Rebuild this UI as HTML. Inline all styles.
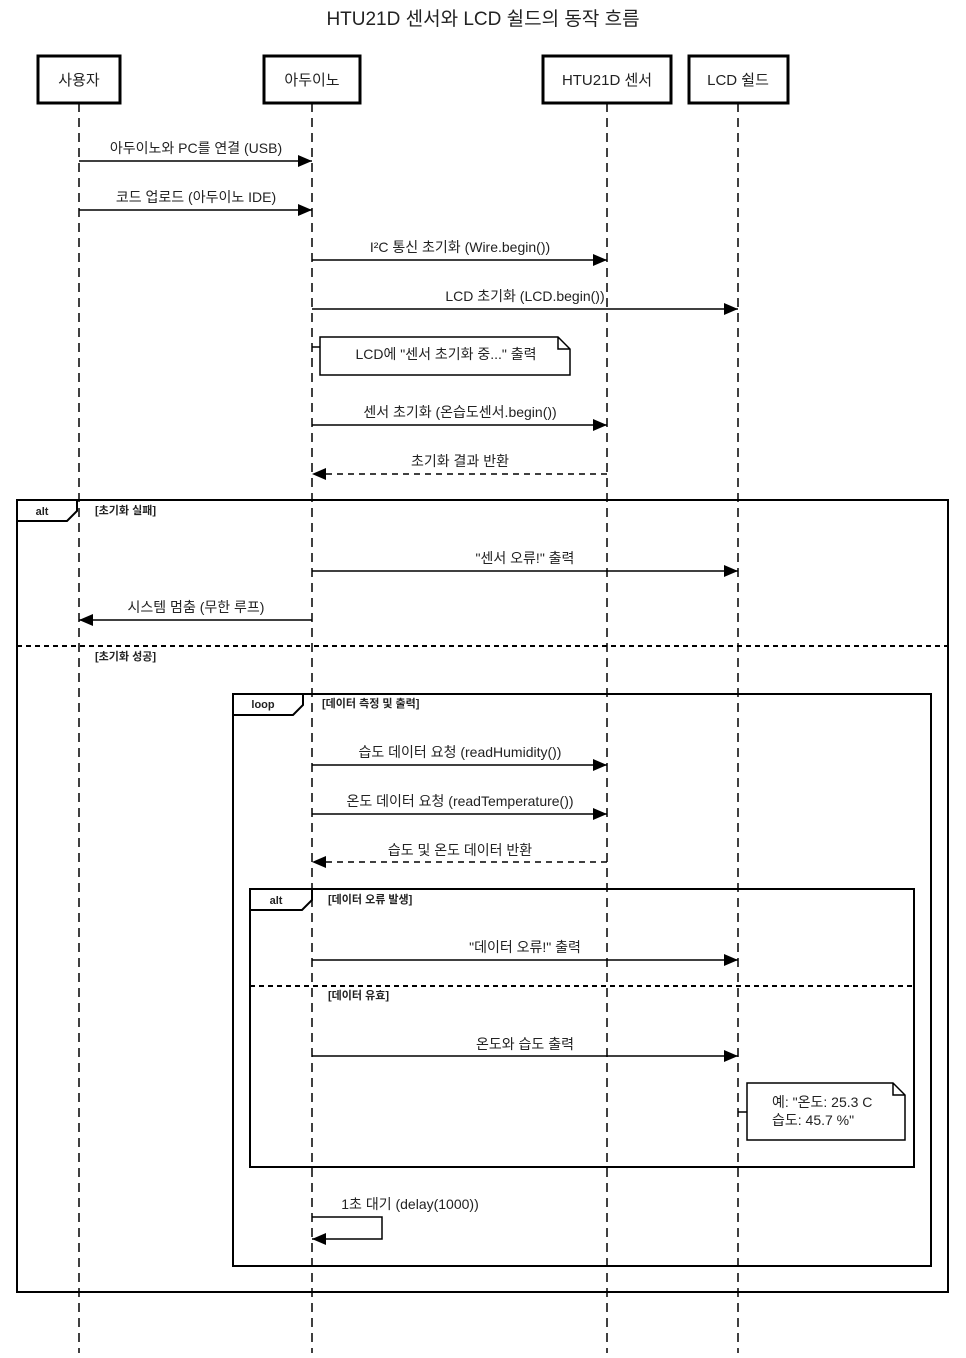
<!DOCTYPE html>
<html><head><meta charset="utf-8"><style>
body{margin:0;background:#fff}
svg text{font-family:"Liberation Sans","Noto Sans CJK KR",sans-serif;fill:#222}
</style></head><body>
<svg width="966" height="1353" viewBox="0 0 966 1353" xmlns="http://www.w3.org/2000/svg">
<defs>
<marker id="a" markerWidth="14" markerHeight="12" refX="14" refY="6" orient="auto" markerUnits="userSpaceOnUse"><path d="M0,0 L14,6 L0,12 Z" fill="#000"/></marker>
</defs>
<text x="483" y="25" font-size="19" text-anchor="middle">HTU21D 센서와 LCD 쉴드의 동작 흐름</text>
<g stroke="#000" stroke-width="1.5" stroke-dasharray="9,6">
<line x1="79" y1="103" x2="79" y2="1353"/>
<line x1="312" y1="103" x2="312" y2="1353"/>
<line x1="607" y1="103" x2="607" y2="1353"/>
<line x1="738" y1="103" x2="738" y2="1353"/>
</g>
<g fill="#fff" stroke="#000" stroke-width="3">
<rect x="38" y="56" width="82" height="47"/>
<rect x="264" y="56" width="96" height="47"/>
<rect x="543" y="56" width="128" height="47"/>
<rect x="689" y="56" width="99" height="47"/>
</g>
<g font-size="15" text-anchor="middle">
<text x="79" y="85">사용자</text><text x="312" y="85">아두이노</text>
<text x="607" y="85">HTU21D 센서</text><text x="738" y="85">LCD 쉴드</text>
</g>
<g stroke="#000" stroke-width="1.5" fill="none">
<line x1="79" y1="161" x2="312" y2="161" marker-end="url(#a)"/>
<line x1="79" y1="210" x2="312" y2="210" marker-end="url(#a)"/>
<line x1="312" y1="260" x2="607" y2="260" marker-end="url(#a)"/>
<line x1="312" y1="309" x2="738" y2="309" marker-end="url(#a)"/>
<line x1="312" y1="425" x2="607" y2="425" marker-end="url(#a)"/>
<line x1="607" y1="474" x2="312" y2="474" stroke-dasharray="6,5" marker-end="url(#a)"/>
<line x1="312" y1="571" x2="738" y2="571" marker-end="url(#a)"/>
<line x1="312" y1="620" x2="79" y2="620" marker-end="url(#a)"/>
<line x1="312" y1="765" x2="607" y2="765" marker-end="url(#a)"/>
<line x1="312" y1="814" x2="607" y2="814" marker-end="url(#a)"/>
<line x1="607" y1="862" x2="312" y2="862" stroke-dasharray="6,5" marker-end="url(#a)"/>
<line x1="312" y1="960" x2="738" y2="960" marker-end="url(#a)"/>
<line x1="312" y1="1056" x2="738" y2="1056" marker-end="url(#a)"/>
<path d="M312,1217 H382 V1239 H312" marker-end="url(#a)"/>
</g>
<g font-size="14" text-anchor="middle">
<text x="196" y="153">아두이노와 PC를 연결 (USB)</text>
<text x="196" y="202">코드 업로드 (아두이노 IDE)</text>
<text x="460" y="252">I²C 통신 초기화 (Wire.begin())</text>
<text x="525" y="301">LCD 초기화 (LCD.begin())</text>
<text x="460" y="417">센서 초기화 (온습도센서.begin())</text>
<text x="460" y="466">초기화 결과 반환</text>
<text x="525" y="563">"센서 오류!" 출력</text>
<text x="196" y="612">시스템 멈춤 (무한 루프)</text>
<text x="460" y="757">습도 데이터 요청 (readHumidity())</text>
<text x="460" y="806">온도 데이터 요청 (readTemperature())</text>
<text x="460" y="855">습도 및 온도 데이터 반환</text>
<text x="525" y="952">"데이터 오류!" 출력</text>
<text x="525" y="1049">온도와 습도 출력</text>
<text x="410" y="1209">1초 대기 (delay(1000))</text>
</g>
<!-- note 1 -->
<path d="M312,347 H320 M320,337 H558 L570,349 V375 H320 Z M558,337 V349 H570" fill="#fff" stroke="#000" stroke-width="1.5"/>
<text x="446" y="359" font-size="14" text-anchor="middle">LCD에 "센서 초기화 중..." 출력</text>
<!-- frames -->
<g fill="none" stroke="#000" stroke-width="2">
<rect x="17" y="500" width="931" height="792"/>
<line x1="17" y1="646" x2="948" y2="646" stroke-dasharray="5,4"/>
<path d="M17,521 H67 L77,511 V500"/>
<rect x="233" y="694" width="698" height="572"/>
<path d="M233,715 H293 L303,705 V694"/>
<rect x="250" y="889" width="664" height="278"/>
<line x1="250" y1="986" x2="914" y2="986" stroke-dasharray="5,4"/>
<path d="M250,910 H302 L312,900 V889"/>
</g>
<g font-size="11" font-weight="bold">
<text x="42" y="515" text-anchor="middle">alt</text>
<text x="95" y="514">[초기화 실패]</text>
<text x="95" y="660">[초기화 성공]</text>
<text x="263" y="708" text-anchor="middle">loop</text>
<text x="322" y="707">[데이터 측정 및 출력]</text>
<text x="276" y="904" text-anchor="middle">alt</text>
<text x="328" y="903">[데이터 오류 발생]</text>
<text x="328" y="999">[데이터 유효]</text>
</g>
<!-- note 2 -->
<path d="M738,1112 H747 M747,1083 H893 L905,1095 V1140 H747 Z M893,1083 V1095 H905" fill="#fff" stroke="#000" stroke-width="1.5"/>
<text x="772" y="1107" font-size="14">예: "온도: 25.3 C</text>
<text x="772" y="1125" font-size="14">습도: 45.7 %"</text>
</svg>
</body></html>
